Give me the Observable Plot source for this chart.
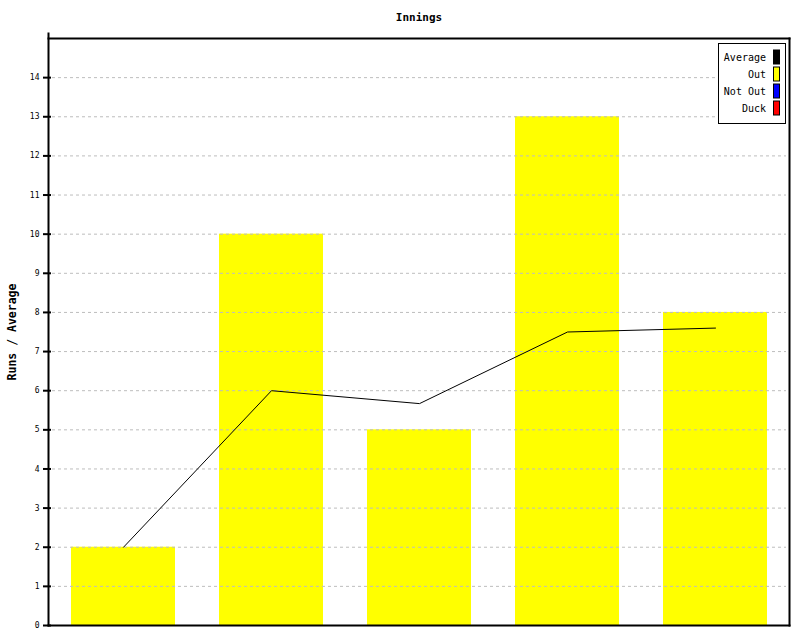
<!DOCTYPE html>
<html>
<head>
<meta charset="utf-8">
<script src="https://cdn.jsdelivr.net/npm/d3@7"></script>
<script src="https://cdn.jsdelivr.net/npm/@observablehq/plot@0.6"></script>
<style>
  html, body { margin: 0; padding: 0; background: #fff; }
  #chart svg { display: block; }
  #chart svg [aria-label="y-axis label"] text { font-weight: bold; font-size: 11.5px; }
</style>
</head>
<body>
<div id="chart"></div>
<script>
const innings = ["1", "2", "3", "4", "5"];
const runs = [2, 10, 5, 13, 8];
const average = [2, 6, 5.67, 7.5, 7.6];
const yTicks = [0, 1, 2, 3, 4, 5, 6, 7, 8, 9, 10, 11, 12, 13, 14];
const legendLabels = ["Average", "Out", "Not Out", "Duck"];
const legendColors = ["#000000", "#ffff00", "#0000ff", "#ff0000"];
const titleText = "Innings";
const yLabel = "Runs / Average";

const data = innings.map((k, i) => ({inning: k, runs: runs[i], avg: average[i]}));

const font = "'DejaVu Sans Mono', monospace";

const plot = Plot.plot({
  width: 800,
  height: 640,
  marginLeft: 48,
  marginRight: 11,
  marginTop: 38,
  marginBottom: 15,
  style: {fontFamily: font, fontSize: "7.5px", background: "#fff", color: "#000"},
  x: {domain: innings, paddingInner: 0.3, paddingOuter: 0.15, axis: null},
  y: {domain: [0, 15], ticks: yTicks},
  marks: [
    Plot.barY(data, {x: "inning", y: "runs", fill: "#ffff00"}),
    Plot.gridY(yTicks, {stroke: "#bdbdbd", strokeOpacity: 1, strokeDasharray: "3,3", insetLeft: 4, insetRight: 3}),
    Plot.line(data, {x: "inning", y: "avg", stroke: "#000", strokeWidth: 1}),
    Plot.frame({anchor: "top", stroke: "#000", strokeWidth: 2}),
    Plot.frame({anchor: "right", stroke: "#000", strokeWidth: 2}),
    Plot.frame({anchor: "bottom", stroke: "#000", strokeWidth: 2}),
    Plot.frame({anchor: "left", stroke: "#000", strokeWidth: 2, insetTop: -5}),
    Plot.axisY(yTicks, {tickSize: 8, dx: 3, text: null, label: null, strokeWidth: 2}),
    Plot.axisY(yTicks, {tickSize: 0, tickPadding: 9, label: yLabel, labelAnchor: "center", labelArrow: "none", labelOffset: 41, fontSize: 8}),
    Plot.text([titleText], {frameAnchor: "top", dy: -21, fontWeight: "bold", fontSize: 11, fontFamily: font, dy: -25})
  ]
});

document.getElementById("chart").appendChild(plot);

// Legend box (top-right, inside plot)
const svg = d3.select(plot);
const lg = svg.append("g").attr("font-family", font).attr("font-size", 10);
lg.append("rect")
  .attr("x", 718.5).attr("y", 43.5).attr("width", 67).attr("height", 80)
  .attr("fill", "#fff").attr("stroke", "#000").attr("stroke-width", 1);
legendLabels.forEach((lab, i) => {
  const yc = 57 + i * 17;
  lg.append("text").attr("x", 766).attr("y", yc).attr("dy", "0.35em")
    .attr("text-anchor", "end").attr("fill", "#000").text(lab);
  lg.append("rect").attr("x", 773.5).attr("y", yc - 7).attr("width", 6).attr("height", 14)
    .attr("fill", legendColors[i]).attr("stroke", "#000").attr("stroke-width", 1);
});
</script>
</body>
</html>
